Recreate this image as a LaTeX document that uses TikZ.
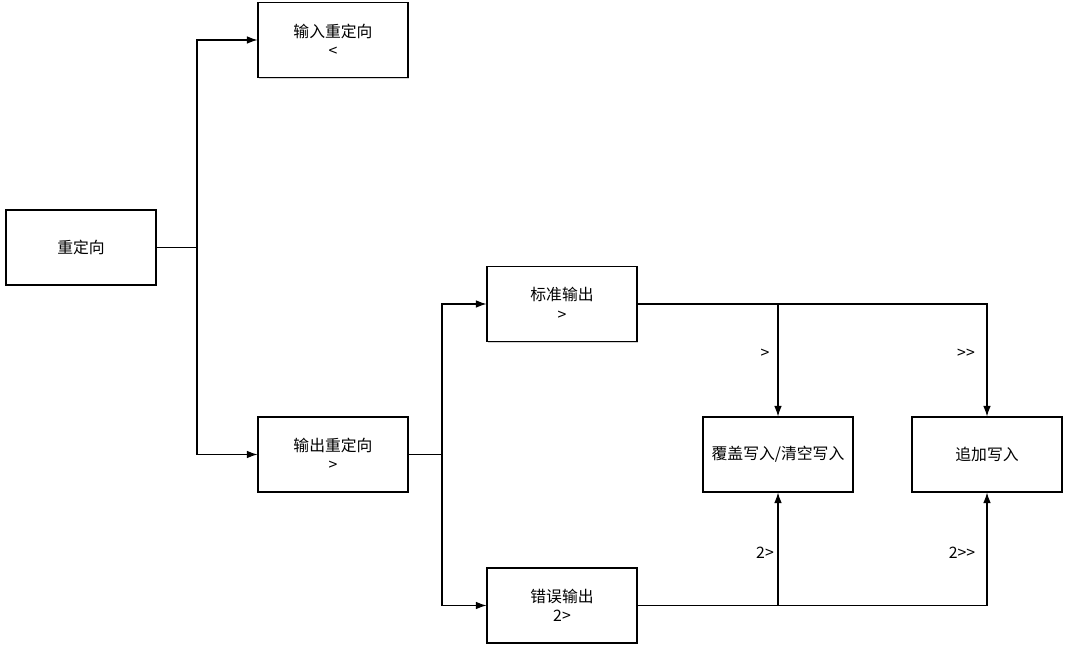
\documentclass[tikz,border=0pt]{standalone}
\usepackage{fontspec}
\setmainfont{Noto Sans CJK SC}
\usetikzlibrary{arrows.meta,shadows}

\tikzset{
  box/.style={draw, fill=white, line width=0.6pt, minimum width=3cm, minimum height=1.5cm,
    align=center, font=\fontsize{9}{11}\selectfont,
    drop shadow={shadow xshift=0.6pt, shadow yshift=-0.6pt, fill=gray, opacity=0.35}},
  lbl/.style={font=\fontsize{9}{11}\selectfont, inner sep=0pt},
  link/.style={line width=0.6pt, -{Latex[length=2.1mm,width=1.5mm]}},
  plain/.style={line width=0.6pt}
}

\begin{document}
\begin{tikzpicture}[x=0.02cm,y=-0.02cm]
        \useasboundingbox (0,0) rectangle (1069,651);
        % boxes
        \node[box] (redir) at (81,247.5) {重定向};
        \node[box] (inredir) at (333,40) {输入重定向\\<};
        \node[box] (outredir) at (333,454.5) {输出重定向\\>};
        \node[box] (stdout) at (562,304) {标准输出\\>};
        \node[box] (stderr) at (562,605.5) {错误输出\\2>};
        \node[box] (over) at (778,454.5) {覆盖写入/清空写入};
        \node[box] (append) at (987,454.5) {追加写入};
        % split points
        \coordinate (split1) at (197,247.5);
        \coordinate (split2) at (442,454.5);
        % connectors
        \draw[plain] (redir.east) -- (split1);
        \draw[link] (split1) |- (inredir.west);
        \draw[link] (split1) |- (outredir.west);
        \draw[plain] (outredir.east) -- (split2);
        \draw[link] (split2) |- (stdout.west);
        \draw[link] (split2) |- (stderr.west);
        \draw[link] (stdout.east) -| (over.north);
        \draw[link] (stdout.east) -| (append.north);
        \draw[link] (stderr.east) -| (over.south);
        \draw[link] (stderr.east) -| (append.south);
        % labels
        \node[lbl] (l1) at (765,354) {>};
        \node[lbl] (l2) at (966,354) {>\kern0pt>};
        \node[lbl] (l3) at (765,553) {2>};
        \node[lbl] (l4) at (962,553) {2>\kern0pt>};
    \end{tikzpicture}
\end{document}
